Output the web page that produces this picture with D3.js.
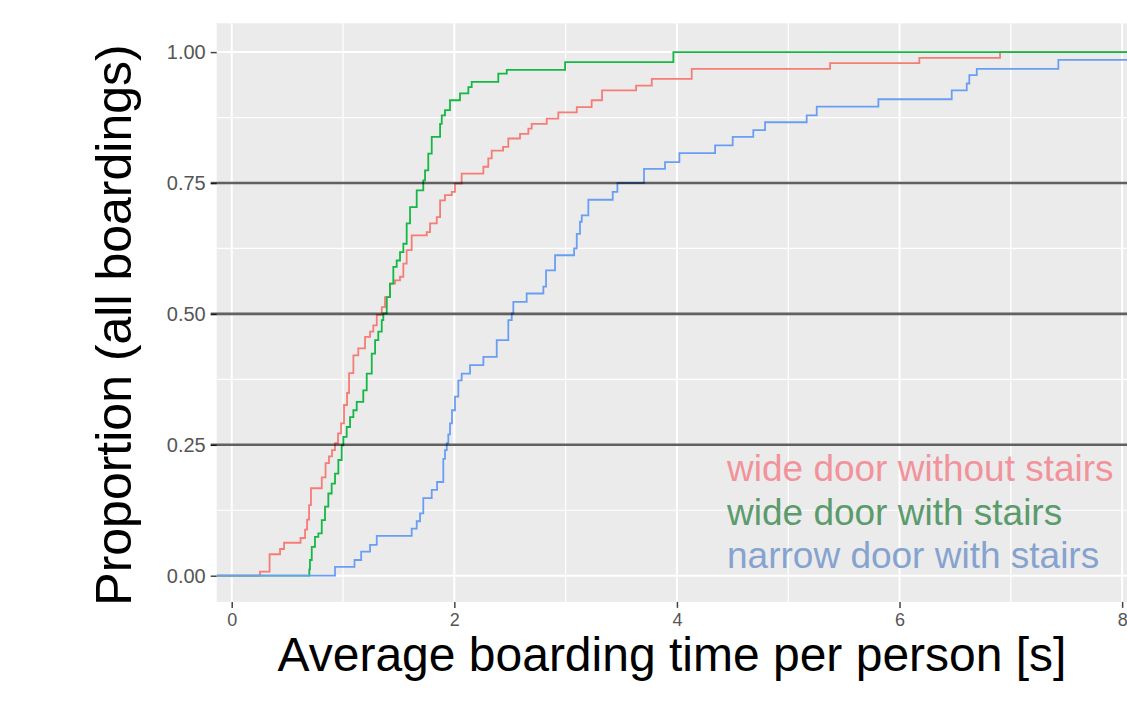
<!DOCTYPE html>
<html>
<head>
<meta charset="utf-8">
<script src="https://cdn.jsdelivr.net/npm/d3@7"></script>
<style>
html,body{margin:0;padding:0;background:#fff;}
svg{display:block;}
text{font-family:"Liberation Sans",Arial,sans-serif;}
</style>
</head>
<body>
<svg id="chart" width="1127" height="706"></svg>
<script>
// ---- data ----
const seriesNames = ["wide door without stairs", "wide door with stairs", "narrow door with stairs"];

// red: wide door without stairs (step x positions and ECDF value after each step)
const redX = [0.254,0.340,0.434,0.470,0.618,0.659,0.677,0.695,0.712,0.809,0.843,0.874,0.901,0.928,0.955,0.982,1.009,1.036,1.054,1.093,1.137,1.198,1.243,1.272,1.303,1.348,1.377,1.422,1.467,1.512,1.542,1.572,1.617,1.752,1.782,1.842,1.872,1.916,1.977,2.006,2.066,2.261,2.305,2.336,2.438,2.485,2.590,2.665,2.695,2.830,2.934,3.100,3.234,3.327,3.633,3.774,4.133,5.376,6.178,6.903];
const redY = [0.008,0.041,0.051,0.063,0.072,0.088,0.107,0.135,0.167,0.188,0.215,0.228,0.240,0.253,0.272,0.291,0.326,0.349,0.387,0.421,0.434,0.456,0.466,0.478,0.498,0.513,0.532,0.558,0.564,0.571,0.596,0.622,0.650,0.656,0.673,0.685,0.717,0.727,0.733,0.749,0.768,0.781,0.797,0.812,0.819,0.835,0.844,0.854,0.863,0.873,0.885,0.895,0.908,0.927,0.936,0.949,0.968,0.979,0.989,1.000];

// green: wide door with stairs
const greenX = [0.697,0.703,0.719,0.748,0.778,0.809,0.838,0.868,0.898,0.928,0.958,0.988,1.003,1.033,1.063,1.093,1.123,1.182,1.213,1.258,1.288,1.317,1.348,1.362,1.393,1.422,1.452,1.482,1.512,1.542,1.572,1.602,1.662,1.721,1.737,1.766,1.797,1.872,1.887,1.916,1.961,2.051,2.126,2.156,2.395,2.471,2.995,3.968];
const greenY = [0.012,0.030,0.055,0.074,0.081,0.106,0.132,0.157,0.176,0.195,0.221,0.249,0.265,0.284,0.303,0.316,0.332,0.354,0.386,0.424,0.450,0.466,0.488,0.501,0.532,0.558,0.590,0.602,0.618,0.634,0.673,0.704,0.736,0.755,0.774,0.806,0.838,0.863,0.879,0.889,0.908,0.921,0.933,0.943,0.959,0.966,0.981,1.000];

// blue: narrow door with stairs
const blueX = [0.928,1.103,1.163,1.243,1.303,1.617,1.662,1.692,1.721,1.797,1.845,1.901,1.916,1.932,1.946,1.961,1.979,2.006,2.036,2.066,2.141,2.261,2.381,2.485,2.516,2.530,2.650,2.800,2.824,2.905,3.076,3.100,3.129,3.145,3.204,3.423,3.465,3.704,3.893,4.022,4.343,4.501,4.686,4.792,5.166,5.256,5.810,6.469,6.604,6.627,6.694,7.427];
const blueY = [0.017,0.030,0.046,0.059,0.076,0.090,0.104,0.119,0.148,0.164,0.179,0.223,0.240,0.253,0.270,0.291,0.316,0.342,0.373,0.386,0.402,0.418,0.450,0.488,0.501,0.523,0.539,0.552,0.583,0.612,0.625,0.653,0.676,0.688,0.718,0.733,0.750,0.777,0.790,0.807,0.822,0.838,0.851,0.866,0.879,0.896,0.910,0.927,0.940,0.956,0.968,0.985];

const xTicks = [0, 2, 4, 6, 8];
const xMinor = [1, 3, 5, 7];
const yTicks = [0, 0.25, 0.5, 0.75, 1.0];
const yMinor = [0.125, 0.375, 0.625, 0.875];
const refLines = [0.25, 0.5, 0.75];

const lineColors = ["#F57D76", "#13B845", "#6A9EF5"];
const legendColors = ["#f2939b", "#5b9b6c", "#86a3cf"];

// ---- layout ----
const svg = d3.select("#chart");
const P = {left: 216.7, right: 1127.7, top: 23.3, bottom: 601.9};
const x = d3.scaleLinear().domain([-0.135, 8.05]).range([P.left, P.right]);
const y = d3.scaleLinear().domain([-0.05, 1.055]).range([P.bottom, P.top]);

// panel
svg.append("rect").attr("x", P.left).attr("y", P.top)
  .attr("width", P.right - P.left).attr("height", P.bottom - P.top).attr("fill", "#ebebeb");

const grid = svg.append("g");
grid.selectAll(".xmin").data(xMinor).join("line")
  .attr("x1", d => x(d)).attr("x2", d => x(d)).attr("y1", P.top).attr("y2", P.bottom)
  .attr("stroke", "#fff").attr("stroke-width", 1.2);
grid.selectAll(".ymin").data(yMinor).join("line")
  .attr("y1", d => y(d)).attr("y2", d => y(d)).attr("x1", P.left).attr("x2", P.right)
  .attr("stroke", "#fff").attr("stroke-width", 1.2);
grid.selectAll(".xmaj").data(xTicks).join("line")
  .attr("x1", d => x(d)).attr("x2", d => x(d)).attr("y1", P.top).attr("y2", P.bottom)
  .attr("stroke", "#fff").attr("stroke-width", 2);
grid.selectAll(".ymaj").data(yTicks).join("line")
  .attr("y1", d => y(d)).attr("y2", d => y(d)).attr("x1", P.left).attr("x2", P.right)
  .attr("stroke", "#fff").attr("stroke-width", 2);

// axes
const xAxis = svg.append("g").attr("transform", `translate(0,${P.bottom})`)
  .call(d3.axisBottom(x).tickValues(xTicks).tickFormat(d3.format("d")).tickSize(6).tickPadding(5));
const yAxis = svg.append("g").attr("transform", `translate(${P.left},0)`)
  .call(d3.axisLeft(y).tickValues(yTicks).tickFormat(d3.format(".2f")).tickSize(6).tickPadding(5));
[xAxis, yAxis].forEach(a => {
  a.select(".domain").remove();
  a.selectAll(".tick line").attr("stroke", "#444").attr("stroke-width", 1.5);
  a.selectAll(".tick text").attr("fill", "#555").attr("font-size", 20)
    .attr("font-family", "Liberation Sans, Arial, sans-serif");
});
xAxis.selectAll(".tick text").attr("font-size", 18);

// ECDF step lines
svg.append("clipPath").attr("id", "clip").append("rect")
  .attr("x", P.left).attr("y", P.top).attr("width", P.right - P.left).attr("height", P.bottom - P.top);

const seriesData = [
  [redX, redY], [greenX, greenY], [blueX, blueY]
].map(([xs, ys]) => {
  const pts = [[x.domain()[0], 0]];
  xs.forEach((v, i) => pts.push([v, ys[i]]));
  pts.push([x.domain()[1], ys[ys.length - 1]]);
  return pts;
});

const line = d3.line().x(d => x(d[0])).y(d => y(d[1])).curve(d3.curveStepAfter);
svg.append("g").attr("clip-path", "url(#clip)")
  .selectAll("path").data(seriesData).join("path")
  .attr("d", line).attr("fill", "none")
  .attr("stroke", (d, i) => lineColors[i]).attr("stroke-width", 1.8);

// reference lines
svg.append("g").selectAll("line").data(refLines).join("line")
  .attr("x1", P.left - 6).attr("x2", P.right)
  .attr("y1", d => y(d)).attr("y2", d => y(d))
  .attr("stroke", "#000").attr("stroke-opacity", 0.62).attr("stroke-width", 2.6);

// legend text
svg.append("g").selectAll("text").data(seriesNames).join("text")
  .attr("x", 727).attr("y", (d, i) => 481 + i * 43.5)
  .attr("font-size", 37).attr("fill", (d, i) => legendColors[i])
  .text(d => d);

// axis titles
svg.append("text").attr("x", 672).attr("y", 671).attr("text-anchor", "middle")
  .attr("font-size", 48).attr("fill", "#000").text("Average boarding time per person [s]");
svg.append("text").attr("transform", "translate(131,325) rotate(-90)").attr("text-anchor", "middle")
  .attr("font-size", 50).attr("fill", "#000").text("Proportion (all boardings)");
</script>
</body>
</html>
